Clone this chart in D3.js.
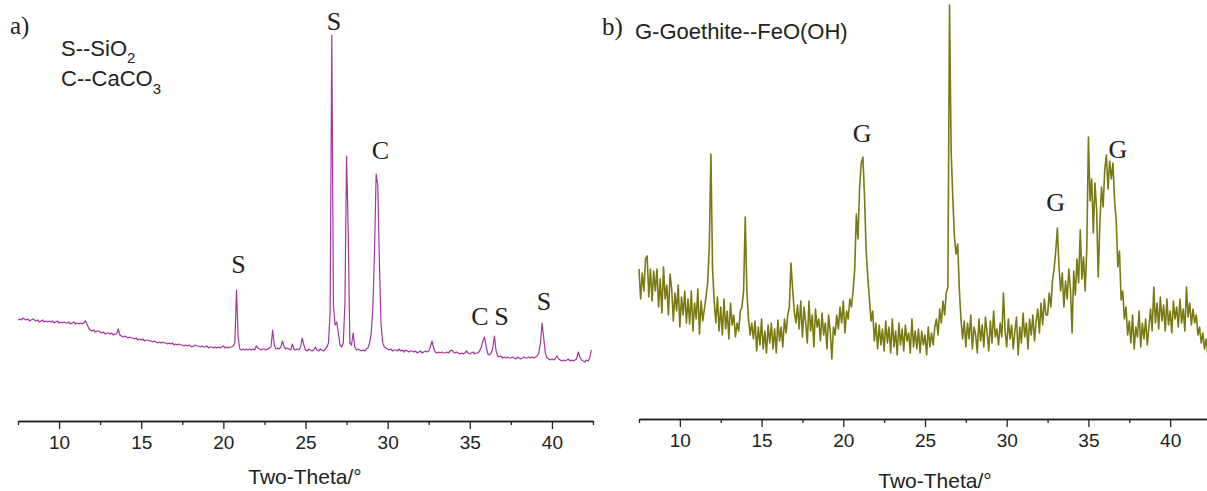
<html>
<script src='https://d3js.org/d3.v7.min.js'></script>
<style>
body {margin:0; background:#fff;}
text {fill:#222;}
</style>
<body onload='init()'>
<svg width=1207 height=491>
</svg>
<script>
// 2-theta grid of both scans
var thetaStart = 7.5;
var thetaStep = 0.1;
var majorTicks = [10, 15, 20, 25, 30, 35, 40];
var minorTicks = [7.5, 12.5, 17.5, 22.5, 27.5, 32.5, 37.5, 42.5];

// a) sample with quartz + calcite
var intensityA = [
 103,104,103,105,104,103,104,102,103,104,
 103,102,103,101,102,103,101,102,101,102,
 101,102,100,101,102,100,101,100,101,100,
 100,101,99,100,101,99,100,99,100,99,
 100,102,99,95,93,92,93,91,92,92,
 91,90,91,89,90,90,89,90,88,89,
 89,94,88,87,86,87,86,85,86,85,
 85,84,85,83,84,83,84,82,83,83,
 82,82,81,82,81,80,81,80,81,80,
 80,79,80,79,80,78,79,78,79,78,
 78,77,78,77,78,77,76,77,78,77,
 77,76,77,76,76,77,75,76,76,75,
 76,75,76,75,76,77,75,76,75,76,
 76,77,80,133,86,74,73,74,73,74,
 73,74,73,74,73,77,75,74,73,74,
 74,73,74,75,76,93,78,74,75,74,
 76,82,76,74,75,74,73,79,74,73,
 74,73,76,85,78,73,72,74,73,72,
 73,76,73,72,74,73,72,74,76,80,
 112,388,118,98,101,90,78,76,80,120,
 267,190,80,78,90,76,73,74,73,72,
 73,72,74,75,80,90,115,170,249,238,
 160,98,80,76,75,74,73,74,72,73,
 73,72,74,72,73,71,73,72,71,72,
 72,71,72,70,71,72,70,71,72,71,
 72,76,82,75,71,70,71,70,71,70,
 70,71,70,72,73,71,70,71,70,69,
 70,69,70,72,70,69,70,71,69,70,
 70,72,76,82,86,76,69,68,70,75,
 87,72,67,66,67,65,66,65,66,65,
 65,66,65,64,66,65,64,65,66,65,
 65,66,65,66,65,66,67,70,80,100,
 85,70,65,64,63,64,63,64,67,64,
 63,62,63,62,63,64,62,63,62,63,
 64,71,66,63,62,61,63,62,65,73
];

// b) goethite sample
var intensityB = [
 150,120,146,128,160,163,122,150,118,148,
 128,150,112,140,106,152,120,134,104,145,
 130,98,126,108,134,92,122,104,128,96,
 120,95,128,88,116,100,130,85,118,98,
 110,122,136,172,265,150,118,96,122,88,
 112,84,120,90,108,80,116,94,104,82,
 96,88,108,112,128,202,128,100,84,96,
 80,98,68,92,74,100,70,88,66,94,
 76,96,70,90,66,99,78,92,72,100,
 86,104,112,156,130,108,96,114,90,118,
 82,112,96,76,118,88,104,72,110,92,
 100,78,106,84,96,70,104,88,60,92,
 84,104,90,112,96,118,86,108,100,120,
 112,128,150,205,180,232,256,262,222,168,
 142,120,98,108,78,96,70,94,74,90,
 68,98,76,92,66,100,72,88,64,96,
 74,90,68,94,78,86,66,100,72,88,
 70,90,66,88,74,84,64,92,72,86,
 74,92,100,84,110,96,118,104,126,132,
 414,268,222,182,165,175,130,100,80,98,
 72,96,80,104,70,92,84,66,100,78,
 94,72,102,86,68,98,76,108,82,90,
 74,96,82,126,88,72,100,80,94,70,
 88,102,64,92,76,106,82,96,70,100,
 84,104,78,98,110,86,116,94,120,104,
 104,126,112,138,150,168,191,152,128,146,
 112,138,120,150,130,86,148,124,160,136,
 189,140,162,128,170,282,218,240,186,236,
 210,142,196,232,212,250,264,230,258,240,
 256,219,198,152,168,119,128,100,112,84,
 98,76,104,70,92,82,108,72,96,80,
 100,74,92,110,88,132,96,116,90,122,
 98,114,88,120,94,108,86,118,100,112,
 92,120,96,110,88,132,102,116,94,110,
 96,104,84,92,76,86,70,80,66,72,
 68
];

// peak letters, placed in data units (2-theta, intensity)
var peakLettersA = ['S', 'S', 'C', 'C', 'S', 'S'];
var peakThetaA = [20.92, 26.73, 29.56, 35.62, 36.93, 39.51];
var peakHeightA = [150, 393, 264, 98, 98, 113];
var peakLettersB = ['G', 'G', 'G'];
var peakThetaB = [21.16, 33.0, 36.8];
var peakHeightB = [277, 208, 261];

function drawPanel(svg, p) {
  var x = d3.scaleLinear().domain([7.5, 42.5]).range([p.left, p.right]);
  var y = d3.scaleLinear().domain([0, 420]).range([p.base, p.base - 420]);

  var line = d3.line()
    .x(function(d, i) { return x(thetaStart + i * thetaStep); })
    .y(function(d) { return y(d); });

  svg.append('path')
    .datum(p.data)
    .attr('d', line)
    .attr('fill', 'none')
    .attr('stroke', p.color)
    .attr('stroke-width', p.lineWidth)
    .attr('stroke-linejoin', 'round');

  svg.append('g')
    .attr('transform', 'translate(0,' + p.axisY + ')')
    .call(d3.axisBottom(x).tickValues(minorTicks).tickSize(4).tickSizeOuter(0).tickFormat(''));

  svg.append('g')
    .attr('transform', 'translate(0,' + p.axisY + ')')
    .call(d3.axisBottom(x).tickValues(majorTicks).tickSize(8).tickPadding(7).tickSizeOuter(0))
    .attr('font-family', "'Liberation Sans', Arial, sans-serif")
    .attr('font-size', 19);

  svg.selectAll('.tick line, .domain').attr('stroke', '#222').attr('stroke-width', 1.3);
  svg.selectAll('.tick text').attr('fill', '#222');

  svg.append('text')
    .attr('x', p.titleX)
    .attr('y', p.titleY)
    .attr('text-anchor', 'middle')
    .attr('font-family', "'Liberation Sans', Arial, sans-serif")
    .attr('font-size', 21)
    .text('Two-Theta/°');

  svg.selectAll(null)
    .data(p.letters)
    .enter()
    .append('text')
    .attr('x', function(d, i) { return x(p.letterTheta[i]); })
    .attr('y', function(d, i) { return y(p.letterHeight[i]); })
    .attr('text-anchor', 'middle')
    .attr('font-family', "'Liberation Serif', 'Times New Roman', serif")
    .attr('font-size', 26)
    .text(function(d) { return d; });
}

function init() {
  var svg = d3.select('svg');

  drawPanel(svg, {left: 18, right: 593, base: 423, axisY: 421, data: intensityA,
    color: '#a4369f', lineWidth: 1.2, titleX: 305, titleY: 484,
    letters: peakLettersA, letterTheta: peakThetaA, letterHeight: peakHeightA});

  drawPanel(svg, {left: 639, right: 1211, base: 419, axisY: 419, data: intensityB,
    color: '#7a7a12', lineWidth: 1.6, titleX: 935, titleY: 488,
    letters: peakLettersB, letterTheta: peakThetaB, letterHeight: peakHeightB});

  var serif = "'Liberation Serif', 'Times New Roman', serif";
  var sans = "'Liberation Sans', Arial, sans-serif";

  svg.append('text').attr('x', 10).attr('y', 34)
    .attr('font-family', serif).attr('font-size', 25).text('a)');
  svg.append('text').attr('x', 602).attr('y', 35)
    .attr('font-family', serif).attr('font-size', 25).text('b)');

  var s1 = svg.append('text').attr('x', 61).attr('y', 56)
    .attr('font-family', sans).attr('font-size', 22);
  s1.append('tspan').text('S--SiO');
  s1.append('tspan').attr('dy', 7).attr('font-size', 15).text('2');

  var s2 = svg.append('text').attr('x', 61).attr('y', 86)
    .attr('font-family', sans).attr('font-size', 22);
  s2.append('tspan').text('C--CaCO');
  s2.append('tspan').attr('dy', 8).attr('font-size', 15).text('3');

  svg.append('text').attr('x', 635).attr('y', 39)
    .attr('font-family', sans).attr('font-size', 22).text('G-Goethite--FeO(OH)');
}
</script>
</body>
</html>
